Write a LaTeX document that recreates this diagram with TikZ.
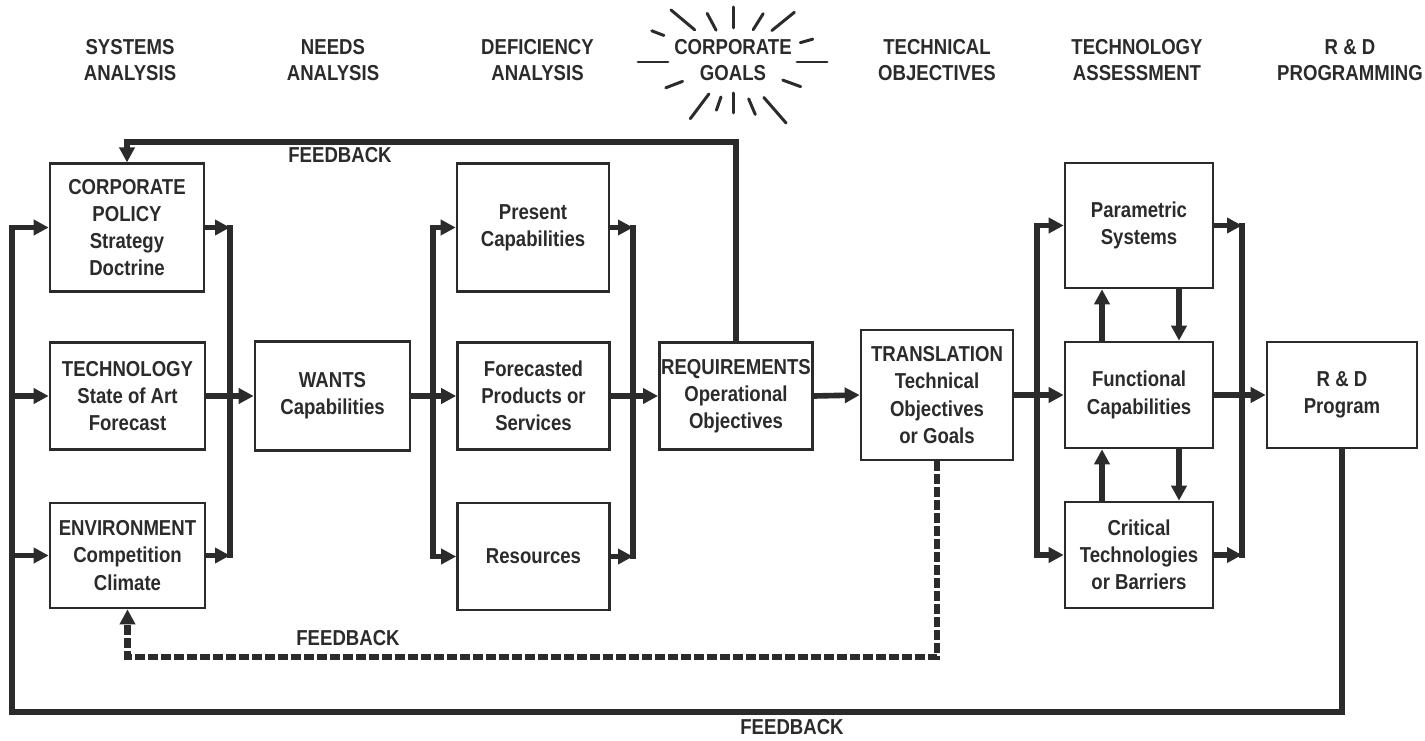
\documentclass[tikz,border=0pt]{standalone}
\usepackage{fontspec}
\setmainfont{Liberation Sans}[FakeStretch=0.86]
\usetikzlibrary{arrows.meta}
\definecolor{inkgrey}{HTML}{2b2b2b}

\begin{document}
\begin{tikzpicture}[
  box/.style={rectangle, draw=inkgrey, line width=1.5pt, minimum width=3.04cm,
    minimum height=2.14cm, align=center, inner sep=1pt, text=inkgrey,
    font=\fontsize{12.3}{15.5}\selectfont\bfseries},
  tall/.style={minimum height=2.55cm},
  head/.style={align=center, text=inkgrey, font=\fontsize{12.3}{14.5}\selectfont\bfseries},
  flow/.style={draw=inkgrey, line width=3.2pt, -{Triangle[length=0.3cm,width=0.3cm]}},
  bus/.style={draw=inkgrey, line width=3.2pt, line cap=rect},
  fbdash/.style={draw=inkgrey, line width=3.8pt, dash pattern=on 0.2cm off 0.06cm,
    -{Triangle[length=0.3cm,width=0.3cm]}},
  ray/.style={draw=inkgrey, line width=1.7pt, line cap=round}
]
\useasboundingbox (0,0) rectangle (28.5,14.8);

% column headings
\node[head] (hsys) at (2.6,13.6) {SYSTEMS\\ANALYSIS};
\node[head] (hneeds) at (6.66,13.6) {NEEDS\\ANALYSIS};
\node[head] (hdef) at (10.75,13.6) {DEFICIENCY\\ANALYSIS};
\node[head] (goals) at (14.66,13.6) {CORPORATE\\GOALS};
\node[head] (htech) at (18.74,13.6) {TECHNICAL\\OBJECTIVES};
\node[head] (hass) at (22.74,13.6) {TECHNOLOGY\\ASSESSMENT};
\node[head] (hrd) at (27.0,13.6) {R \& D\\PROGRAMMING};

% rays round the goals
\foreach \a/\r/\R in {140/1.0/1.62, 118/0.72/1.1, 90/0.68/1.1, 58/0.76/1.14,
    39/1.0/1.58, 159/1.48/1.74, 16/1.4/1.66, 180/1.3/1.9, 0/1.28/1.88,
    201/1.08/1.44, -20/1.06/1.44, 233/0.8/1.42, 251/0.74/1.02, 270/0.62/1.02,
    -67/0.8/1.14, -49/0.94/1.62}
  \draw[ray, shift={(14.66,13.56)}] (\a:\r) -- (\a:\R);

% boxes
\node[box, tall, minimum width=3.08cm] (policy) at (2.54,10.25) {CORPORATE\\POLICY\\Strategy\\Doctrine};
\node[box, minimum width=3.1cm] (tech) at (2.55,6.88) {TECHNOLOGY\\State of Art\\Forecast};
\node[box, minimum width=3.1cm, minimum height=2.1cm] (env) at (2.55,3.69) {ENVIRONMENT\\Competition\\Climate};
\node[box, minimum width=3.1cm, minimum height=2.18cm] (wants) at (6.65,6.88) {WANTS\\Capabilities};
\node[box, tall] (present) at (10.66,10.25) {Present\\Capabilities};
\node[box] (forecast) at (10.67,6.88) {Forecasted\\Products or\\Services};
\node[box] (resources) at (10.67,3.67) {Resources};
\node[box, minimum width=2.96cm] (req) at (14.72,6.88) {REQUIREMENTS\\Operational\\Objectives};
\node[box, minimum height=2.6cm] (trans) at (18.74,6.9) {TRANSLATION\\Technical\\Objectives\\or Goals};
\node[box, tall, minimum width=2.96cm, minimum height=2.5cm] (param) at (22.78,10.29) {Parametric\\Systems};
\node[box, minimum width=2.96cm, minimum height=2.12cm] (func) at (22.78,6.9) {Functional\\Capabilities};
\node[box, minimum width=2.96cm, minimum height=2.12cm] (crit) at (22.78,3.7) {Critical\\Technologies\\or Barriers};
\node[box, minimum width=3.0cm, minimum height=2.12cm] (rd) at (26.84,6.9) {R \& D\\Program};

% bus lines and feedback levels
\coordinate (b1) at (0.24,0);
\coordinate (b2) at (4.6,0);
\coordinate (b3) at (8.66,0);
\coordinate (b4) at (12.66,0);
\coordinate (b5) at (20.74,0);
\coordinate (b6) at (24.84,0);
\coordinate (ftop) at (0,11.96);
\coordinate (fdash) at (0,1.66);
\coordinate (fbot) at (0,0.56);

% systems analysis
\draw[flow] (rd.south) -- (rd.south |- fbot) -- (b1 |- fbot) -- (b1 |- policy.west) -- (policy.west);
\draw[flow] (b1 |- tech.west) -- (tech.west);
\draw[flow] (b1 |- env.west) -- (env.west);
\draw[flow] (policy.east) -- (policy.east -| b2);
\draw[flow] (env.east) -- (env.east -| b2);
\draw[bus] (policy.east -| b2) -- (env.east -| b2);
\draw[flow] (tech.east) -- (wants.west);

% deficiency analysis
\draw[bus] (b3 |- present.west) -- (b3 |- resources.west);
\draw[flow] (b3 |- present.west) -- (present.west);
\draw[flow] (b3 |- resources.west) -- (resources.west);
\draw[flow] (wants.east) -- (forecast.west);
\draw[flow] (present.east) -- (present.east -| b4);
\draw[flow] (resources.east) -- (resources.east -| b4);
\draw[bus] (present.east -| b4) -- (resources.east -| b4);
\draw[flow] (forecast.east) -- (req.west);
\draw[flow] (req.east) -- (trans.west);

% technology assessment
\draw[bus] (b5 |- param.west) -- (b5 |- crit.west);
\draw[flow] (b5 |- param.west) -- (param.west);
\draw[flow] (b5 |- crit.west) -- (crit.west);
\draw[flow] (trans.east) -- (func.west);
\draw[flow] (param.east) -- (param.east -| b6);
\draw[flow] (crit.east) -- (crit.east -| b6);
\draw[bus] (param.east -| b6) -- (crit.east -| b6);
\draw[flow] (func.east) -- (rd.west);
\draw[flow] ([xshift=-0.74cm]func.north) -- ([xshift=-0.74cm]param.south);
\draw[flow] ([xshift=0.8cm]param.south) -- ([xshift=0.8cm]func.north);
\draw[flow] ([xshift=-0.74cm]crit.north) -- ([xshift=-0.74cm]func.south);
\draw[flow] ([xshift=0.8cm]func.south) -- ([xshift=0.8cm]crit.north);

% feedback loops
\draw[flow] (req.north) -- (req.north |- ftop) -- (policy.north |- ftop) -- (policy.north);
\draw[fbdash] (trans.south) -- (trans.south |- fdash) -- (env.south |- fdash) -- (env.south);
\node[head] (fb1) at (6.8,11.7) {FEEDBACK};
\node[head] (fb2) at (6.96,2.04) {FEEDBACK};
\node[head] (fb3) at (15.84,0.26) {FEEDBACK};
\end{tikzpicture}
\end{document}
